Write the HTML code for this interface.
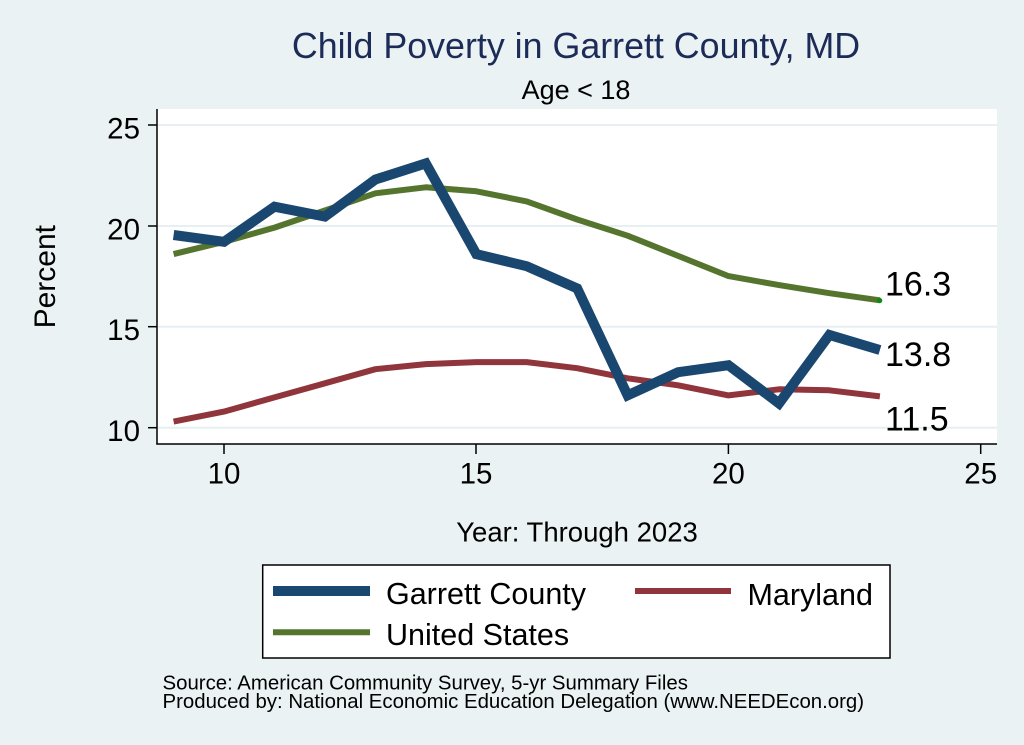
<!DOCTYPE html>
<html>
<head>
<meta charset="utf-8">
<style>
  html, body { margin:0; padding:0; background:#eaf2f3; }
  body { width:1024px; height:745px; overflow:hidden; }
  svg { display:block; }
  text { font-family: "Liberation Sans", Arial, sans-serif; }
</style>
</head>
<body>
<svg width="1024" height="745" viewBox="0 0 1024 745" xmlns="http://www.w3.org/2000/svg">
  <rect x="0" y="0" width="1024" height="745" fill="#eaf2f3"/>

  <!-- Titles -->
  <text x="576" y="58" font-size="35.8" fill="#1c2b57" text-anchor="middle">Child Poverty in Garrett County, MD</text>
  <text x="576" y="99" font-size="27" fill="#000" text-anchor="middle">Age &lt; 18</text>

  <!-- Plot region -->
  <rect x="157" y="109" width="840" height="335" fill="#ffffff"/>

  <!-- Grid lines -->
  <g stroke="#e6eff1" stroke-width="2">
    <line x1="158" y1="125" x2="997" y2="125"/>
    <line x1="158" y1="226" x2="997" y2="226"/>
    <line x1="158" y1="326.7" x2="997" y2="326.7"/>
    <line x1="158" y1="427.7" x2="997" y2="427.7"/>
  </g>

  <!-- Axes -->
  <g stroke="#000" stroke-width="1.5" fill="none">
    <line x1="157" y1="109" x2="157" y2="444.5"/>
    <line x1="156.3" y1="444" x2="997" y2="444"/>
    <line x1="148" y1="125" x2="157" y2="125"/>
    <line x1="148" y1="226" x2="157" y2="226"/>
    <line x1="148" y1="326.7" x2="157" y2="326.7"/>
    <line x1="148" y1="427.7" x2="157" y2="427.7"/>
    <line x1="224" y1="444" x2="224" y2="454"/>
    <line x1="476" y1="444" x2="476" y2="454"/>
    <line x1="728.4" y1="444" x2="728.4" y2="454"/>
    <line x1="980.7" y1="444" x2="980.7" y2="454"/>
  </g>

  <!-- Y tick labels -->
  <g font-size="29.5" fill="#000" text-anchor="end">
    <text x="140" y="138.3">25</text>
    <text x="140" y="239.3">20</text>
    <text x="140" y="340">15</text>
    <text x="140" y="441">10</text>
  </g>
  <!-- X tick labels -->
  <g font-size="29.5" fill="#000" text-anchor="middle">
    <text x="224" y="483.3">10</text>
    <text x="476" y="483.3">15</text>
    <text x="728.4" y="483.3">20</text>
    <text x="980.7" y="483.3">25</text>
  </g>

  <!-- Axis titles -->
  <text x="55" y="276.7" font-size="30" fill="#000" text-anchor="middle" transform="rotate(-90 55 276.7)">Percent</text>
  <text x="577" y="541.7" font-size="27.5" fill="#000" text-anchor="middle">Year: Through 2023</text>

  <!-- Series -->
  <polyline fill="none" stroke="#90353b" stroke-width="6" stroke-linejoin="round" stroke-linecap="butt"
    points="173.6,421.6 224,411.6 274.5,397.4 324.9,383.3 375.4,369.2 425.8,364.1 476.3,362.1 526.7,362.1 577.2,368.2 627.6,378.3 678.1,385.3 728.5,395.4 779,389.3 829.4,390.3 879.9,396.4"/>
  <polyline fill="none" stroke="#55752f" stroke-width="6" stroke-linejoin="round" stroke-linecap="butt"
    points="173.6,254.1 224,241.8 274.5,227.6 324.9,210.5 375.4,193.3 425.8,187.3 476.3,191.3 526.7,201.4 577.2,219.5 627.6,235.7 678.1,255.9 728.5,276.1 779,285.1 829.4,293.2 879.9,300.3"/>
  <polyline fill="none" stroke="#1a476f" stroke-width="10" stroke-linejoin="miter" stroke-miterlimit="2" stroke-linecap="butt"
    points="173.6,235 224,241.8 274.5,206.7 324.9,216.6 375.4,179.5 425.8,163.4 476.3,254.1 526.7,266.2 577.2,288.4 627.6,395.4 678.1,372.2 728.5,365.2 779,403.4 829.4,334.9 879.9,350.0"/>

  <circle cx="879.7" cy="300.5" r="2.6" fill="#0b8a14"/>

  <!-- End labels -->
  <g font-size="34" fill="#000">
    <text x="885" y="295.5">16.3</text>
    <text x="885" y="366">13.8</text>
    <text x="885" y="430.5">11.5</text>
  </g>

  <!-- Legend -->
  <rect x="262.7" y="565" width="627.3" height="93" fill="#ffffff" stroke="#000" stroke-width="1.5"/>
  <line x1="273" y1="591" x2="370" y2="591" stroke="#1a476f" stroke-width="10"/>
  <line x1="273" y1="632.3" x2="370" y2="632.3" stroke="#55752f" stroke-width="6"/>
  <line x1="635" y1="591" x2="731" y2="591" stroke="#90353b" stroke-width="6"/>
  <g font-size="30.5" fill="#000">
    <text x="386" y="604">Garrett County</text>
    <text x="386" y="645">United States</text>
    <text x="747.5" y="605">Maryland</text>
  </g>

  <!-- Notes -->
  <g font-size="20.4" fill="#000">
    <text x="162.5" y="689.5">Source: American Community Survey, 5-yr Summary Files</text>
    <text x="162.5" y="707.8">Produced by: National Economic Education Delegation (www.NEEDEcon.org)</text>
  </g>
</svg>
</body>
</html>
